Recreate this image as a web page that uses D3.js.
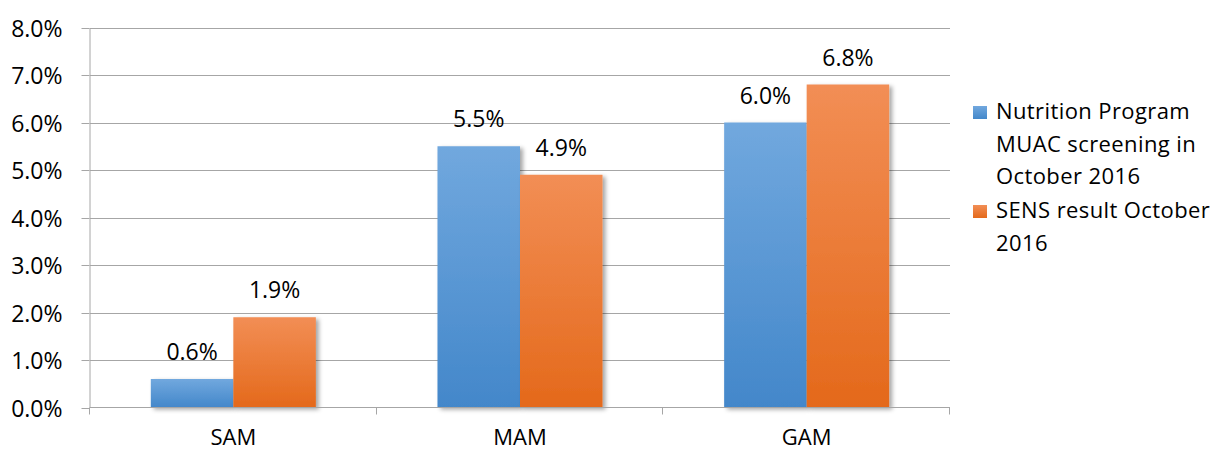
<!DOCTYPE html>
<html>
<head>
<meta charset="utf-8">
<script src="https://cdn.jsdelivr.net/npm/d3@7"></script>
<style>
  html, body { margin: 0; padding: 0; background: #fff; }
  svg { display: block; }
  text { font-family: "Open Sans", sans-serif; fill: #000; }
</style>
</head>
<body>
<svg id="chart" width="1215" height="451"></svg>
<script>
// Acute malnutrition rates by indicator and source
const categories = ["SAM", "MAM", "GAM"];
const seriesNames = ["Nutrition Program MUAC screening in October 2016", "SENS result October 2016"];
const muacValues = [0.006, 0.055, 0.060];
const sensValues = [0.019, 0.049, 0.068];
const yTicks = [0, 0.01, 0.02, 0.03, 0.04, 0.05, 0.06, 0.07, 0.08];
const legendLines = [
  ["Nutrition Program", "MUAC screening in", "October 2016"],
  ["SENS result October", "2016"]
];

const svg = d3.select("#chart");
const plot = { left: 90, right: 950, top: 27.5, bottom: 407.5 };

const x0 = d3.scaleBand().domain(categories).range([plot.left, plot.right]).paddingInner(0).paddingOuter(0);
const x1 = d3.scaleBand().domain([0, 1]).range([0, x0.bandwidth()]).paddingInner(0).paddingOuter(0.737);
const y = d3.scaleLinear().domain([0, 0.08]).range([plot.bottom, plot.top]);
const fmt = d3.format(".1%");

const defs = svg.append("defs");
const grads = [
  { id: "gBlue", top: "#71a8de", bottom: "#4387ca" },
  { id: "gOrange", top: "#f28e55", bottom: "#e4691b" }
];
grads.forEach(g => {
  const lg = defs.append("linearGradient").attr("id", g.id)
    .attr("x1", 0).attr("y1", 0).attr("x2", 0).attr("y2", 1);
  lg.append("stop").attr("offset", "0%").attr("stop-color", g.top);
  lg.append("stop").attr("offset", "100%").attr("stop-color", g.bottom);
});
const shadow = defs.append("filter").attr("id", "barShadow")
  .attr("x", "-10%").attr("y", "-10%").attr("width", "130%").attr("height", "130%");
shadow.append("feDropShadow").attr("dx", 3).attr("dy", 2).attr("stdDeviation", 2)
  .attr("flood-color", "#000").attr("flood-opacity", 0.35);

const gridColor = "#a6a6a6";
const numSize = "23px";

// horizontal gridlines
svg.append("g").selectAll("line").data(yTicks.slice(1)).join("line")
  .attr("x1", plot.left).attr("x2", plot.right)
  .attr("y1", d => Math.round(y(d)) + 0.5).attr("y2", d => Math.round(y(d)) + 0.5)
  .attr("stroke", gridColor).attr("stroke-width", 1);

// y axis
const yAxis = svg.append("g").attr("transform", `translate(${plot.left - 0.5},0)`)
  .call(d3.axisLeft(y).tickValues(yTicks).tickFormat(fmt).tickSize(8).tickSizeOuter(0));
yAxis.select(".domain").attr("stroke", gridColor);
yAxis.selectAll(".tick line").attr("stroke", gridColor);
yAxis.selectAll(".tick").attr("transform", d => `translate(0,${Math.round(y(d)) + 0.5})`);
yAxis.selectAll(".tick text").attr("x", -27).attr("dy", "0.35em")
  .style("font-size", numSize).style("font-family", "'Open Sans', sans-serif").attr("fill", "#000");

// bars
const series = [muacValues, sensValues];
const fills = ["url(#gBlue)", "url(#gOrange)"];
const groups = svg.append("g").selectAll("g").data(categories).join("g")
  .attr("transform", c => `translate(${x0(c)},0)`);
groups.each(function(c, ci) {
  const g = d3.select(this);
  series.forEach((vals, si) => {
    g.append("rect")
      .attr("x", x1(si)).attr("width", x1.bandwidth())
      .attr("y", y(vals[ci])).attr("height", y(0) - y(vals[ci]))
      .attr("fill", fills[si]).attr("filter", "url(#barShadow)");
  });
  series.forEach((vals, si) => {
    g.append("text")
      .attr("x", x1(si) + x1.bandwidth() / 2)
      .attr("y", y(vals[ci]) - 19)
      .attr("text-anchor", "middle")
      .style("font-size", numSize)
      .text(fmt(vals[ci]));
  });
});

// x axis
const xAxis = svg.append("g").attr("transform", `translate(0,${plot.bottom})`);
xAxis.append("line").attr("x1", plot.left).attr("x2", plot.right).attr("y1", 0).attr("y2", 0)
  .attr("stroke", gridColor);
const bounds = categories.map(c => x0(c)).concat([plot.right]);
xAxis.selectAll("line.tk").data(bounds).join("line").attr("class", "tk")
  .attr("x1", d => Math.round(d) - 0.5).attr("x2", d => Math.round(d) - 0.5)
  .attr("y1", 0).attr("y2", 7).attr("stroke", gridColor);
xAxis.selectAll("text").data(categories).join("text")
  .attr("x", c => x0(c) + x0.bandwidth() / 2).attr("y", 37.5)
  .attr("text-anchor", "middle").style("font-size", "22px")
  .text(c => c);

// legend
const legendSwatches = ["url(#gBlue)", "url(#gOrange)"];
const legendStart = [119, 218];
const lineH = 32.5;
legendLines.forEach((lines, i) => {
  const lg = svg.append("g").attr("class", "legend-item").datum(seriesNames[i]);
  lg.append("rect").attr("x", 973).attr("y", legendStart[i] - 13).attr("width", 14).attr("height", 13)
    .attr("fill", legendSwatches[i]);
  const t = lg.append("text").attr("x", 996).attr("y", legendStart[i]).style("font-size", "22px")
    .style("letter-spacing", "0.4px");
  lines.forEach((ln, j) => {
    t.append("tspan").attr("x", 996).attr("y", legendStart[i] + j * lineH).text(ln);
  });
});
</script>
</body>
</html>
